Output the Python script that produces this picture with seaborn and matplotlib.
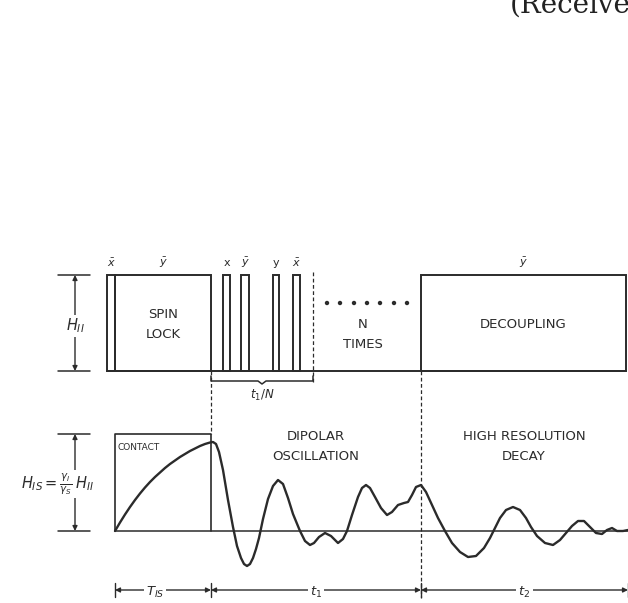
import numpy as np
import pandas as pd
import seaborn as sns
import matplotlib.pyplot as plt
from matplotlib.patches import Rectangle

# ---- data (pixel units, y down) ----
pulse_labels = [r'$\bar{x}$', r'$\bar{y}$', 'x', r'$\bar{y}$', 'y', r'$\bar{x}$', r'$\bar{y}$']
pulse_start = [107, 115, 223, 241, 273, 293, 421]
pulse_end = [115, 211, 230, 249, 279, 300, 626]
rf_top, rf_base = 275, 371

# signal: cross-polarisation build-up, dipolar oscillation, high-resolution decay
sig_x = [115, 120, 125, 130, 135, 140, 145, 150, 155, 160, 165, 170, 175, 180,
         185, 190, 195, 200, 205, 210, 213,
         216, 219, 223, 228, 233, 237, 241, 244, 247, 250, 253, 256, 259, 263, 268,
         273, 278, 283, 288, 293, 300, 305, 310, 314, 319, 325, 331, 338, 343, 347,
         352, 358, 362, 366, 370, 375, 381, 387, 392, 398, 404, 408, 412, 416, 421,
         426, 432, 438, 445, 452, 460, 468, 476, 484, 490, 495, 500, 506, 513,
         520, 526, 531, 537, 545, 553, 560, 566, 572, 578, 584, 590, 596, 602,
         607, 612, 617, 623, 628]
sig_y = [531, 522.5, 514.5, 507, 500, 493.5, 487.5, 482, 477, 472.5, 468, 464, 460.5, 457,
         454, 451, 448.5, 446, 444, 442.5, 442,
         444, 452, 470, 500, 527, 546, 558, 564, 566, 564, 558, 549, 538, 519, 499,
         486, 480, 484, 498, 514, 531, 541, 545, 543, 537, 533, 536, 543, 539, 531,
         515, 497, 488, 485, 488, 497, 508, 515, 512, 505, 503, 502, 495, 487, 485,
         492, 505, 518, 531, 543, 552, 557, 556, 548, 538, 528, 518, 510, 507,
         510, 518, 527, 536, 543, 545, 540, 533, 526, 521, 521, 527, 533, 534,
         530, 528, 531, 531, 530]
sig_base = 531
contact_top = 434

dots_x = [327, 340, 354, 367, 380, 394, 407]
dots_y = [303] * 7

period_edges = [115, 211, 421, 628]
period_labels = [r'$T_{IS}$', r'$t_1$', r'$t_2$']

ink = '#2b2b2b'
sns.set_style('white')
plt.rcParams['font.family'] = ['DejaVu Sans']
plt.rcParams['mathtext.fontset'] = 'dejavusans'

fig = plt.figure(figsize=(6.28, 6.03), dpi=100)
ax = fig.add_axes([0, 0, 1, 1])

# ---- rf channel ----
for x0, x1, lab in zip(pulse_start, pulse_end, pulse_labels):
    ax.add_patch(Rectangle((x0, rf_top), x1 - x0, rf_base - rf_top,
                           fill=False, ec=ink, lw=1.4))
    ax.text((x0 + x1) / 2, 263, lab, ha='center', va='center', fontsize=8, color=ink)
ax.plot([107, 626], [rf_base, rf_base], color=ink, lw=1.4)
ax.text(163, 315, 'SPIN', ha='center', va='center', fontsize=9.5, color=ink)
ax.text(163, 334, 'LOCK', ha='center', va='center', fontsize=9.5, color=ink)
ax.text(523, 325, 'DECOUPLING', ha='center', va='center', fontsize=9.5, color=ink)
ax.text(363, 324, 'N', ha='center', va='center', fontsize=9.5, color=ink)
ax.text(363, 344, 'TIMES', ha='center', va='center', fontsize=9.5, color=ink)
sns.scatterplot(x=dots_x, y=dots_y, ax=ax, color=ink, s=10, edgecolor='none')

# t1/N bracket
ax.plot([211, 211, 258, 262, 266, 313, 313], [376, 381, 381, 384, 381, 381, 376],
        color=ink, lw=1.1)
ax.text(262, 395, r'$t_1/N$', ha='center', va='center', fontsize=8.5, color=ink)

# H_II amplitude marker
for yy in (rf_top, rf_base):
    ax.plot([58, 90], [yy, yy], color=ink, lw=1.1)
ax.annotate('', xy=(75, rf_top), xytext=(75, rf_base),
            arrowprops=dict(arrowstyle='<|-|>', color=ink, lw=1.0,
                            mutation_scale=7, shrinkA=0, shrinkB=0))
ax.text(75, 326, r'$H_{II}$', ha='center', va='center', fontsize=10.5, color=ink,
        bbox=dict(fc='white', ec='none', pad=1))

# ---- signal channel ----
ax.plot([115, 628], [sig_base, sig_base], color=ink, lw=1.1)
ax.plot([115, 115, 211, 211], [sig_base, contact_top, contact_top, sig_base],
        color=ink, lw=1.2)
sig = pd.DataFrame({'t': sig_x, 'amp': sig_y})
sns.lineplot(data=sig, x='t', y='amp', ax=ax, sort=False, estimator=None,
             color=ink, lw=1.7)

ax.text(118, 447, 'CONTACT', ha='left', va='center', fontsize=6.5, color=ink)
ax.text(316, 437, 'DIPOLAR', ha='center', va='center', fontsize=9.5, color=ink)
ax.text(316, 457, 'OSCILLATION', ha='center', va='center', fontsize=9.5, color=ink)
ax.text(524, 437, 'HIGH RESOLUTION', ha='center', va='center', fontsize=9.5, color=ink)
ax.text(524, 457, 'DECAY', ha='center', va='center', fontsize=9.5, color=ink)

for yy in (contact_top, sig_base):
    ax.plot([58, 90], [yy, yy], color=ink, lw=1.1)
ax.annotate('', xy=(75, contact_top), xytext=(75, sig_base),
            arrowprops=dict(arrowstyle='<|-|>', color=ink, lw=1.0,
                            mutation_scale=7, shrinkA=0, shrinkB=0))
ax.text(57, 484, r'$H_{IS}=\frac{\gamma_I}{\gamma_S}\,H_{II}$', ha='center',
        va='center', fontsize=10.5, color=ink, bbox=dict(fc='white', ec='none', pad=1))

# dashed guide lines
ax.plot([313, 313], [272, 383], color=ink, lw=0.9, ls=(0, (3, 2)))
ax.plot([211, 211], [rf_base, contact_top], color=ink, lw=0.9, ls=(0, (3, 2)))
ax.plot([421, 421], [rf_base, 598], color=ink, lw=0.9, ls=(0, (3, 2)))

# ---- time periods ----
ty = 590
for x0 in period_edges:
    ax.plot([x0, x0], [583, 597], color=ink, lw=1.0)
for x0, x1, lab in zip(period_edges[:-1], period_edges[1:], period_labels):
    ax.annotate('', xy=(x0, ty), xytext=(x1, ty),
                arrowprops=dict(arrowstyle='<|-|>', color=ink, lw=1.0,
                                mutation_scale=7, shrinkA=0, shrinkB=0))
    ax.text((x0 + x1) / 2 + (-8 if x0 == 115 else 0), ty + 2, lab, ha='center',
            va='center', fontsize=9.5, color=ink,
            bbox=dict(fc='white', ec='none', pad=1.5))

# running header of the scanned page (cut by the page edge, as in the scan)
ax.text(510, 13, '(Received', ha='left', va='baseline', fontsize=20,
        family='DejaVu Serif', color='#222222')

ax.set_xlim(0, 628)
ax.set_ylim(603, 0)
ax.axis('off')
fig.savefig('out.png', dpi=100)
